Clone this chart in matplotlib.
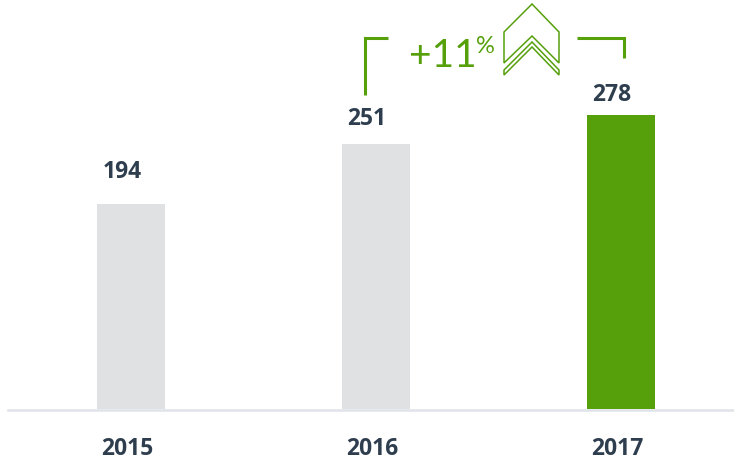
import matplotlib
matplotlib.use("Agg")
import matplotlib.pyplot as plt
from matplotlib.patches import Polygon
from matplotlib.lines import Line2D

years = ["2015", "2016", "2017"]
values = [194, 251, 278]
bar_colors = ["#e0e1e3", "#e0e1e3", "#56a00c"]
growth_label = "+11"

W, H = 734, 462
fig = plt.figure(figsize=(W / 100, H / 100), dpi=100)
ax = fig.add_axes([0, 0, 1, 1])
ax.set_xlim(-0.535, 2.461)
ax.set_ylim(-50.1, 386.9)
ax.axis("off")

x = list(range(len(years)))
ax.bar(x, values, width=0.278, color=bar_colors, zorder=2)

# baseline
ax.add_line(Line2D([8 / W, 1.0], [1 - 409.5 / H, 1 - 409.5 / H], transform=fig.transFigure,
                   color="#dfe4e9", lw=1.8, zorder=1))

dark = "#2f3e4e"
green = "#56a00c"
label_gap_px = [26, 19, 14]
for xi, v, g in zip(x, values, label_gap_px):
    ax.annotate(str(v), (xi, v), xytext=(-9, g), textcoords="offset pixels",
                ha="center", va="baseline", fontsize=16.5, fontweight="bold",
                family="Open Sans", color=dark)
for xi, yr in zip(x, years):
    ax.annotate(yr, (xi, 0), xytext=(-4, -46), textcoords="offset pixels",
                ha="center", va="baseline", fontsize=16.5, fontweight="bold",
                family="Open Sans", color=dark)

def P(px, py):
    return (px / W, 1 - py / H)

tf = fig.transFigure
# brackets
for pts in ([(388, 38), (365, 38), (365, 95)], [(577, 38), (624, 38), (624, 58)]):
    xs = [P(*p)[0] for p in pts]
    ys = [P(*p)[1] for p in pts]
    fig.add_artist(Line2D(xs, ys, transform=tf, color=green, lw=2.2,
                          solid_joinstyle="miter", solid_capstyle="butt"))

# growth text
fig.text(*P(443, 67), growth_label, transform=tf, ha="center", va="baseline",
         fontsize=28, family="Lato", color=green)
fig.text(*P(485, 53), "%", transform=tf, ha="center", va="baseline",
         fontsize=17, family="Lato", color=green)

# chevron icon
outer = [(504, 32), (532, 4), (559, 32), (559, 63), (532, 36), (504, 63)]
band = [(504, 70), (532, 42), (559, 70), (559, 75), (532, 47), (504, 75)]
for poly in (outer, band):
    fig.add_artist(Polygon([P(*p) for p in poly], closed=True, transform=tf,
                           fill=False, edgecolor=green, lw=1.1, joinstyle="miter"))

fig.savefig("out.png", dpi=100)
